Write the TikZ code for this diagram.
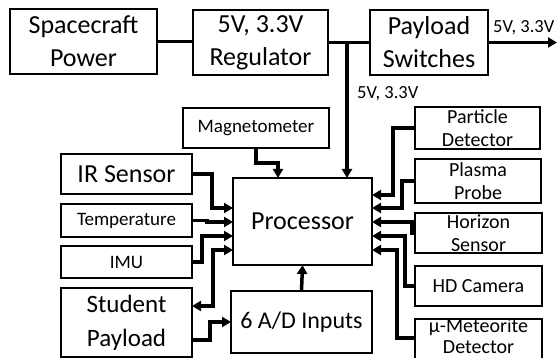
\documentclass[tikz,border=0pt]{standalone}
\usepackage{fontspec}
\setmainfont{Carlito}
\usetikzlibrary{arrows.meta}
\tikzset{
  box/.style={draw, line width=1.5pt, inner sep=0pt, outer sep=0pt, align=center},
  big/.style={font=\fontsize{26}{33}\selectfont},
  mid/.style={font=\fontsize{19}{23}\selectfont},
  rt/.style={font=\fontsize{20}{23}\selectfont},
  conn/.style={line width=3.5pt},
  arr/.style={conn, -{Triangle[length=9pt,width=10pt]}},
  biarr/.style={conn, {Triangle[length=9pt,width=10pt]}-{Triangle[length=9pt,width=10pt]}},
  lbl/.style={font=\fontsize{18.5}{22}\selectfont, inner sep=0pt}
}
\begin{document}
\begin{tikzpicture}[x=1pt,y=-1pt]
\useasboundingbox[fill=white] (0,0) rectangle (559,358);
% top row
\node[box,big,minimum width=147,minimum height=65] (scp) at (83.5,41.5) {Spacecraft\\Power};
\node[box,big,minimum width=135,minimum height=65] (reg) at (260.5,42.5) {5V, 3.3V\\Regulator};
\node[box,big,minimum width=118,minimum height=65] (psw) at (429,42.5) {Payload\\Switches};
% middle
\node[box,mid,minimum width=146,minimum height=40] (mag) at (256,128) {Magnetometer};
\node[box,big,minimum width=139,minimum height=87] (proc) at (302.5,221.5) {Processor};
\node[box,font=\fontsize{24}{30}\selectfont,minimum width=141,minimum height=62] (ad) at (301.5,322) {6 A/D Inputs};
% left
\node[box,font=\fontsize{26}{33}\selectfont,minimum width=131,minimum height=40] (ir) at (126.5,174) {IR Sensor};
\node[box,mid,minimum width=131,minimum height=33] (temp) at (126.5,220.5) {Temperature};
\node[box,mid,minimum width=131,minimum height=32] (imu) at (126.5,262) {IMU};
\node[box,font=\fontsize{25}{34}\selectfont,minimum width=131,minimum height=69] (stu) at (126.5,322.5) {Student\\Payload};
% right
\node[box,rt,minimum width=125,minimum height=42] (pd) at (477.5,128) {Particle\\Detector};
\node[box,rt,minimum width=126,minimum height=44] (pp) at (478,181) {Plasma\\Probe};
\node[box,rt,minimum width=127,minimum height=40] (hs) at (478.5,233) {Horizon\\Sensor};
\node[box,rt,minimum width=127,minimum height=40] (hd) at (478.5,286) {HD Camera};
\node[box,minimum width=127,minimum height=42] (mm) at (478.5,340) {};
\node[font=\fontsize{20}{21}\selectfont,align=center,inner sep=0pt] (mmt) at (478.5,336.5) {μ-Meteorite\\Detector};
% labels
\node[lbl,anchor=base west] (l1) at (357,99) {5V, 3.3V};
\node[lbl,anchor=base west] (l2) at (493,33) {5V, 3.3V};
% power connectors
\draw[conn] (scp.east) -- (reg.west |- scp.east);
\draw[conn] (reg.east) -- (psw.west);
\coordinate (j) at (347,42.5);
\draw[arr] (j) -- (j |- proc.north);
\coordinate (out) at (557,42.5);
\draw[arr] (psw.east) -- (out);
% magnetometer
\draw[arr] (mag.south) -- (256,163) -| (proc.north -| 278,0);
% left inputs
\draw[arr] (ir.east) -| (212,208) -- (proc.west |- 0,208);
\draw[arr] (temp.east) -- (207,220.5) -- (207,222) -- (proc.west |- 0,222);
\draw[arr] (imu.east) -| (202,236) -- (proc.west |- 0,236);
\draw[biarr] (stu.east |- 0,306) -| (213,250) -- (proc.west |- 0,250);
\draw[arr] (stu.east |- 0,340) -| (210,322) -- (ad.west);
\draw[arr] (ad.north) -- (proc.south);
% right inputs
\draw[arr] (pd.west) -| (393,195) -- (proc.east |- 0,195);
\draw[arr] (pp.west) -| (402,208) -- (proc.east |- 0,208);
\draw[arr] (hs.west) -| (412,222) -- (proc.east |- 0,222);
\draw[arr] (hd.west) -| (405,236) -- (proc.east |- 0,236);
\draw[arr] (mm.west |- 0,338) -| (397,250) -- (proc.east |- 0,250);
\end{tikzpicture}
\end{document}
